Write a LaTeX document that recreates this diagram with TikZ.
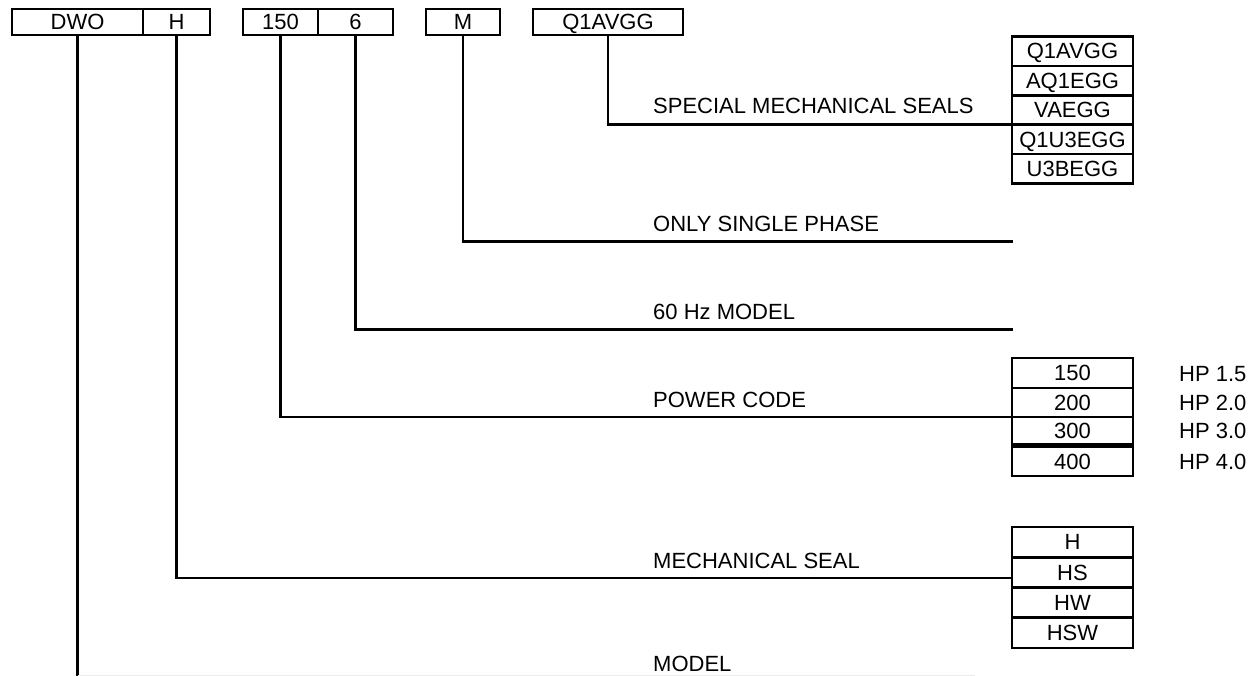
\documentclass[tikz,border=0pt]{standalone}
\usepackage{fontspec}
\setmainfont{Liberation Sans}
\begin{document}
\begin{tikzpicture}[x=1pt,y=-1pt,
  box/.style={draw,line width=2.6pt,inner sep=0pt,minimum height=26pt,
    text height=15.5pt,text depth=0pt,font=\fontsize{22}{26}\selectfont},
  opt/.style={box,minimum width=121pt},
  conn/.style={line width=2.6pt},
  lbl/.style={anchor=base west,inner sep=0pt,font=\fontsize{22}{26}\selectfont},
  faint/.style={line width=1pt,black!8}]
\useasboundingbox (0,0) rectangle (1260,676);
% top code boxes
\node[box,minimum width=131pt] (dwo) at (77.5,22) {DWO};
\node[box,minimum width=67pt] (h) at (176.5,22) {H};
\node[box,minimum width=75pt] (p150) at (280.5,22) {150};
\node[box,minimum width=75pt] (six) at (355.5,22) {6};
\node[box,minimum width=74pt] (m) at (463,22) {M};
\node[box,minimum width=150pt] (q1) at (608,22) {Q1AVGG};
% special mechanical seals
\node[opt,minimum height=29.4pt] (s1) at (1072.5,51.2) {Q1AVGG};
\node[opt,minimum height=29.4pt] (s2) at (1072.5,80.6) {AQ1EGG};
\node[opt,minimum height=29.4pt] (s3) at (1072.5,110) {VAEGG};
\node[opt,minimum height=29.4pt] (s4) at (1072.5,139.4) {Q1U3EGG};
\node[opt,minimum height=29.4pt] (s5) at (1072.5,168.8) {U3BEGG};
% power codes
\node[opt,minimum height=30pt] (c150) at (1072.5,373) {150};
\node[opt,minimum height=29pt] (c200) at (1072.5,402.5) {200};
\node[opt,minimum height=27pt] (c300) at (1072.5,430.5) {300};
\node[opt,minimum height=29.5pt] (c400) at (1072.5,461.25) {400};
\node[lbl] (hp1) at (1179,381) {HP 1.5};
\node[lbl] (hp2) at (1179,410.5) {HP 2.0};
\node[lbl] (hp3) at (1179,438.5) {HP 3.0};
\node[lbl] (hp4) at (1179,469) {HP 4.0};
% mechanical seals
\node[opt,minimum height=30.25pt] (mh) at (1072.5,542.1) {H};
\node[opt,minimum height=30.25pt] (mhs) at (1072.5,572.4) {HS};
\node[opt,minimum height=30.25pt] (mhw) at (1072.5,602.6) {HW};
\node[opt,minimum height=30.25pt] (mhsw) at (1072.5,632.9) {HSW};
% line ends
\coordinate (eq) at (1012,124.5);
\coordinate (em) at (1013,241.5);
\coordinate (e6) at (1013,329.5);
\coordinate (ep) at (1012,417);
\coordinate (eh) at (1012,578);
\coordinate (ed) at (975,675.5);
\coordinate (edb) at (77.5,676);
% connectors
\draw[conn] (q1.south) |- (eq);
\draw[conn] (m.south) |- (em);
\draw[conn] (six.south) |- (e6);
\draw[conn] (p150.south) |- (ep);
\draw[conn] (h.south) |- (eh);
\draw[conn] (dwo.south) -- (edb);
\draw[faint] (edb |- ed) -- (ed);
% labels
\node[lbl] (l1) at (653,114) {SPECIAL MECHANICAL SEALS};
\node[lbl] (l2) at (653,231.5) {ONLY SINGLE PHASE};
\node[lbl] (l3) at (653,319.5) {60 Hz MODEL};
\node[lbl] (l4) at (653,407) {POWER CODE};
\node[lbl] (l5) at (653,568) {MECHANICAL SEAL};
\node[lbl] (l6) at (653,671) {MODEL};
\end{tikzpicture}
\end{document}
